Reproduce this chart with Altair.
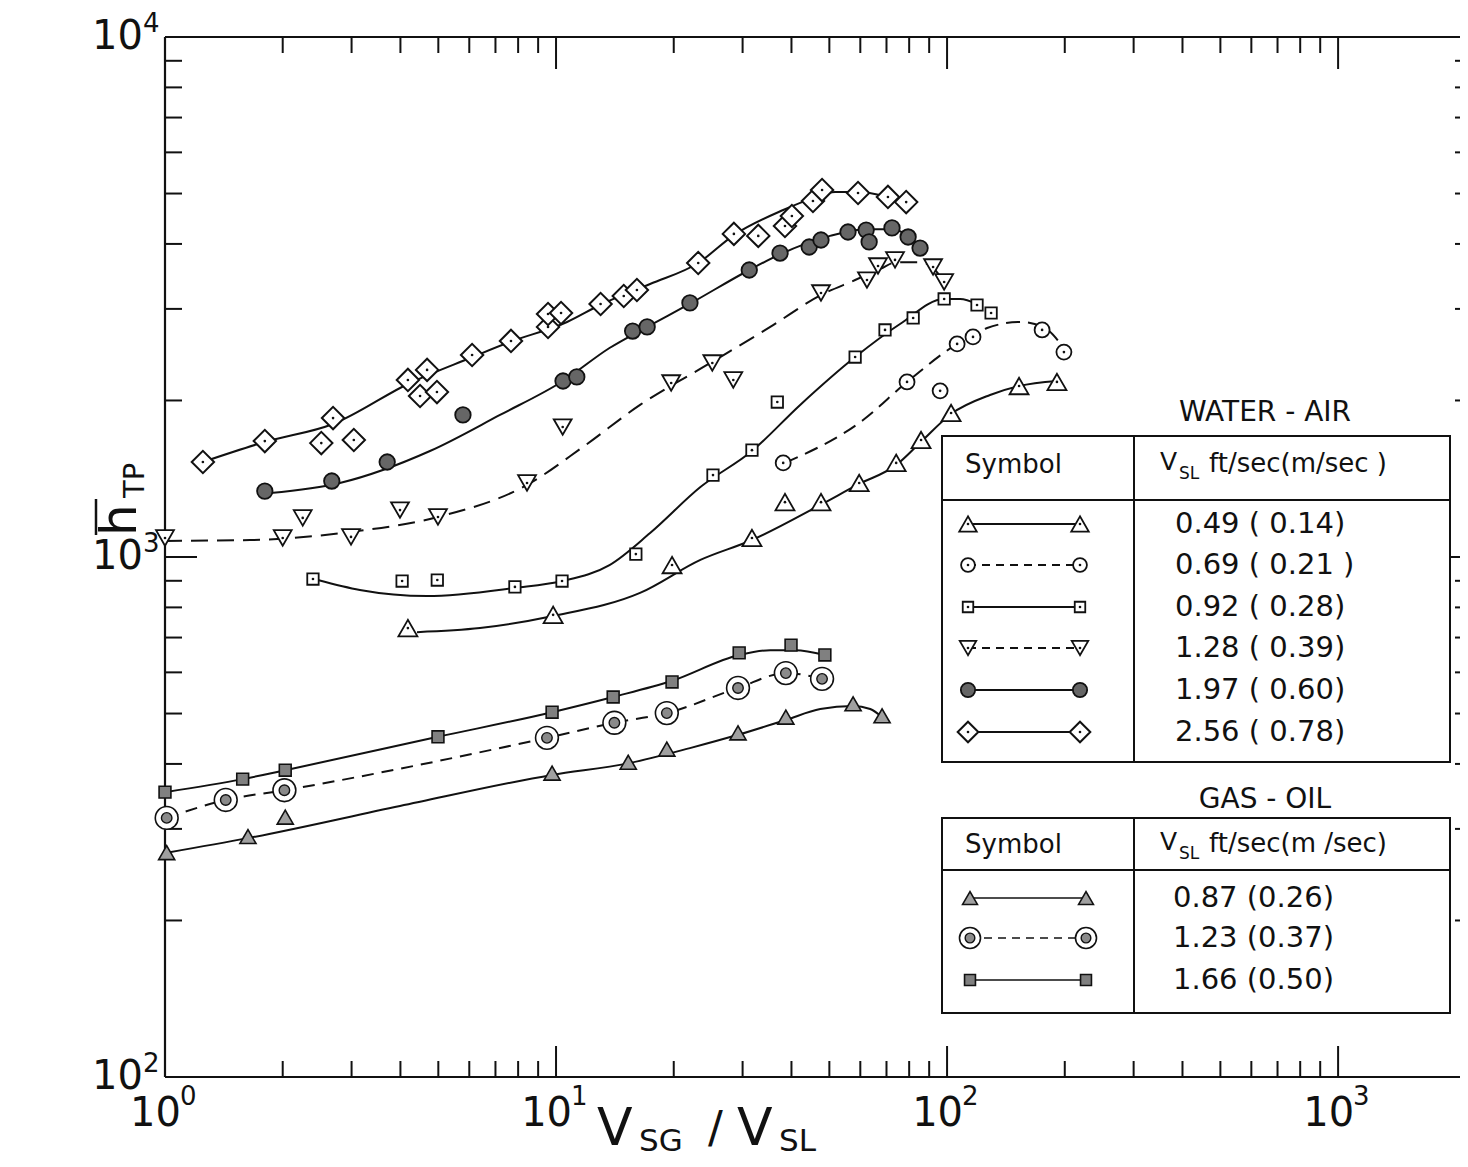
import altair as alt
import pandas as pd

# ---------------- data ----------------
# Water - air, V_SL = 0.49 ft/s (0.14 m/s): open triangles, solid curve
WA049_X = [4.18, 9.83, 19.8, 31.7, 38.5, 47.6, 59.6, 74.1, 85.8, 102.4, 152.8, 191.0]
WA049_Y = [730, 774, 965, 1088, 1275, 1275, 1388, 1517, 1679, 1892, 2132, 2171]
WA049_FIT_X = [4.41, 6.39, 9.83, 16.4, 23.4, 31.7, 47.4, 59.6, 74.1, 85.8, 102.4, 128.8, 152.8, 191.0]
WA049_FIT_Y = [717, 730, 770, 853, 987, 1078, 1259, 1382, 1502, 1665, 1884, 2049, 2132, 2180]

# Water - air, V_SL = 0.69 ft/s (0.21 m/s): open circles, dashed curve
WA069_X = [38.1, 79.0, 96.0, 106.1, 116.5, 175.0, 199.0]
WA069_Y = [1517, 2171, 2087, 2569, 2650, 2733, 2478]
WA069_FIT_X = [38.5, 61.0, 79.0, 106.1, 126.6, 153.7, 176.0, 198.0]
WA069_FIT_Y = [1517, 1834, 2171, 2569, 2756, 2831, 2770, 2533]

# Water - air, V_SL = 0.92 ft/s (0.28 m/s): open squares, solid curve
WA092_X = [2.39, 4.04, 4.97, 7.85, 10.36, 16.0, 25.2, 31.7, 36.8, 58.2, 69.4, 81.9, 98.3, 119.3, 129.6]
WA092_Y = [907, 899, 903, 876, 899, 1013, 1437, 1605, 1986, 2424, 2733, 2882, 3135, 3052, 2946]
WA092_FIT_X = [2.46, 3.15, 4.68, 7.85, 10.36, 13.7, 17.4, 23.4, 31.7, 42.1, 58.2, 75.8, 98.3, 108.0, 119.3]
WA092_FIT_Y = [903, 864, 841, 872, 899, 965, 1112, 1363, 1599, 1961, 2424, 2806, 3135, 3135, 3066]

# Water - air, V_SL = 1.28 ft/s (0.39 m/s): inverted triangles, dashed curve
WA128_X = [1.00, 2.00, 2.25, 2.99, 3.99, 4.99, 8.43, 10.4, 19.7, 25.1, 28.4, 47.6, 62.4, 66.6, 73.6, 92.1, 98.3]
WA128_Y = [1088, 1088, 1189, 1093, 1231, 1194, 1388, 1778, 2161, 2361, 2190, 3219, 3409, 3628, 3727, 3612, 3380]
WA128_FIT_X = [1.0, 1.65, 2.97, 4.99, 8.43, 11.72, 16.4, 24.8, 35.3, 47.6, 58.2, 67.4, 74.5, 85.3, 92.1, 98.3]
WA128_FIT_Y = [1074, 1078, 1117, 1194, 1376, 1628, 1961, 2361, 2770, 3190, 3409, 3581, 3690, 3690, 3594, 3380]

# Water - air, V_SL = 1.97 ft/s (0.60 m/s): filled circles, solid curve
WA197_X = [1.80, 2.67, 3.70, 5.78, 10.42, 11.3, 15.7, 17.1, 22.0, 31.2, 37.4, 44.4, 47.6, 55.8, 62.1, 63.2, 72.3, 79.5, 85.3]
WA197_Y = [1339, 1400, 1523, 1876, 2180, 2220, 2720, 2770, 3080, 3564, 3842, 3946, 4070, 4217, 4253, 4035, 4293, 4125, 3928]
WA197_FIT_X = [1.86, 2.80, 4.76, 7.19, 10.42, 13.7, 17.1, 22.0, 31.2, 37.4, 50.2, 62.1, 72.3, 79.5, 85.3]
WA197_FIT_Y = [1327, 1388, 1599, 1876, 2180, 2523, 2770, 3070, 3564, 3820, 4145, 4270, 4270, 4145, 3946]

# Water - air, V_SL = 2.56 ft/s (0.78 m/s): diamonds, solid curve
WA256_X = [1.25, 1.80, 2.51, 2.69, 3.04, 4.18, 4.49, 4.68, 4.96, 6.10, 7.67, 9.54, 9.54, 10.3,
           13.0, 14.9, 16.1, 23.1, 28.5, 32.9, 38.5, 40.1, 45.4, 47.9, 59.2, 70.6, 78.6]
WA256_Y = [1523, 1671, 1656, 1850, 1679, 2190, 2040, 2290, 2076, 2446, 2603, 2770, 2933, 2946,
           3066, 3176, 3262, 3676, 4182, 4145, 4330, 4526, 4837, 5078, 5012, 4925, 4814]
WA256_FIT_X = [1.25, 1.80, 2.69, 4.23, 6.03, 7.62, 10.67, 12.95, 17.4, 23.1, 28.5, 38.1, 45.4, 51.7, 59.2, 70.6, 78.6]
WA256_FIT_Y = [1523, 1664, 1802, 2161, 2414, 2591, 2831, 3052, 3350, 3676, 4160, 4648, 4900, 5034, 5034, 4925, 4814]

# Gas - oil, V_SL = 0.87 ft/s (0.26 m/s): shaded triangles, solid curve
GO087_X = [1.01, 1.63, 2.03, 9.77, 15.3, 19.2, 29.2, 38.7, 57.5, 68.2]
GO087_Y = [270, 290, 316, 384, 403, 427, 459, 492, 522, 495]
GO087_FIT_X = [1.01, 1.63, 3.99, 9.77, 15.3, 22.0, 29.2, 38.7, 47.4, 57.5, 63.6, 68.2]
GO087_FIT_Y = [270, 288, 332, 381, 401, 429, 455, 486, 510, 517, 510, 492]

# Gas - oil, V_SL = 1.23 ft/s (0.37 m/s): double circles, dashed curve
GO123_X = [1.01, 1.43, 2.02, 9.48, 14.1, 19.2, 29.2, 38.7, 47.9]
GO123_Y = [315, 341, 356, 449, 480, 501, 560, 598, 583]
GO123_FIT_X = [1.01, 1.43, 2.02, 9.48, 14.1, 19.2, 29.2, 38.7, 47.9]
GO123_FIT_Y = [315, 341, 356, 449, 480, 501, 560, 598, 583]

# Gas - oil, V_SL = 1.66 ft/s (0.50 m/s): shaded squares, solid curve
GO166_X = [1.0, 1.58, 2.03, 4.99, 9.77, 14.0, 19.8, 29.4, 39.9, 48.7]
GO166_Y = [353, 374, 389, 451, 503, 538, 575, 654, 677, 648]
GO166_FIT_X = [1.0, 1.58, 2.03, 4.99, 9.77, 14.0, 19.8, 29.4, 35.3, 40.9, 48.7]
GO166_FIT_Y = [353, 374, 389, 451, 503, 538, 578, 648, 662, 662, 648]

# axis ticks and labels
X_MAJOR = [1, 10, 100, 1000]
X_MAJOR_EXP = ["0", "1", "2", "3"]
X_MINOR = [2, 3, 4, 5, 6, 7, 8, 9, 20, 30, 40, 50, 60, 70, 80, 90,
           200, 300, 400, 500, 600, 700, 800, 900]
Y_MAJOR = [100, 1000, 10000]
Y_MAJOR_EXP = ["2", "3", "4"]
Y_MINOR = [200, 300, 400, 500, 600, 700, 800, 900, 2000, 3000, 4000, 5000, 6000, 7000, 8000, 9000]

WA_TITLE = "WATER - AIR"
GO_TITLE = "GAS - OIL"
HEAD_SYMBOL = "Symbol"
WA_HEAD_UNITS = "ft/sec(m/sec )"
GO_HEAD_UNITS = "ft/sec(m /sec)"
WA_LABELS = ["0.49 ( 0.14)", "0.69 ( 0.21 )", "0.92 ( 0.28)", "1.28 ( 0.39)", "1.97 ( 0.60)", "2.56 ( 0.78)"]
GO_LABELS = ["0.87 (0.26)", "1.23 (0.37)", "1.66 (0.50)"]

# ---------------- styling / layout ----------------
W, H = 1295, 1040
FONT = "DejaVu Sans"
INK = "#111111"
XS = alt.Scale(type="log", domain=[1, 2050], nice=False)
YS = alt.Scale(type="log", domain=[100, 10000], nice=False)
DOT = dict(shape="circle", size=7, fill=INK, strokeWidth=0)

M_TRI = [dict(shape="triangle-up", size=360, fill="white", strokeWidth=1.8), DOT]
M_CIR = [dict(shape="circle", size=225, fill="white", strokeWidth=1.8), DOT]
M_SQ = [dict(shape="square", size=130, fill="white", strokeWidth=1.8), DOT]
M_TRD = [dict(shape="triangle-down", size=320, fill="white", strokeWidth=1.8), DOT]
M_FCI = [dict(shape="circle", size=240, fill="#666666", strokeWidth=1.8)]
M_DIA = [dict(shape="diamond", size=500, fill="white", strokeWidth=2), DOT]
M_GTR = [dict(shape="triangle-up", size=260, fill="#a0a0a0", strokeWidth=1.6)]
M_GCI = [dict(shape="circle", size=520, fill="white", strokeWidth=1.6),
         dict(shape="circle", size=110, fill="#8a8a8a", strokeWidth=1.4)]
M_GSQ = [dict(shape="square", size=140, fill="#808080", strokeWidth=1.6)]

SERIES = [
    (WA049_X, WA049_Y, WA049_FIT_X, WA049_FIT_Y, M_TRI, None),
    (WA069_X, WA069_Y, WA069_FIT_X, WA069_FIT_Y, M_CIR, [14, 8]),
    (WA092_X, WA092_Y, WA092_FIT_X, WA092_FIT_Y, M_SQ, None),
    (WA128_X, WA128_Y, WA128_FIT_X, WA128_FIT_Y, M_TRD, [17, 9]),
    (WA197_X, WA197_Y, WA197_FIT_X, WA197_FIT_Y, M_FCI, None),
    (WA256_X, WA256_Y, WA256_FIT_X, WA256_FIT_Y, M_DIA, None),
    (GO087_X, GO087_Y, GO087_FIT_X, GO087_FIT_Y, M_GTR, None),
    (GO123_X, GO123_Y, GO123_FIT_X, GO123_FIT_Y, M_GCI, [12, 8]),
    (GO166_X, GO166_Y, GO166_FIT_X, GO166_FIT_Y, M_GSQ, None),
]

layers = []
ONE = alt.Data(values=[{}])


def xenc(field="x"):
    return alt.X(f"{field}:Q", scale=XS, axis=None)


def yenc(field="y"):
    return alt.Y(f"{field}:Q", scale=YS, axis=None)


# frame lines (top, bottom, left)
layers.append(alt.Chart(ONE).mark_rule(color=INK, strokeWidth=2.2).encode(
    x=alt.value(0), x2=alt.value(W), y=alt.value(0)))
layers.append(alt.Chart(ONE).mark_rule(color=INK, strokeWidth=2.2).encode(
    x=alt.value(0), x2=alt.value(W), y=alt.value(H)))
layers.append(alt.Chart(ONE).mark_rule(color=INK, strokeWidth=2.2).encode(
    x=alt.value(0), y=alt.value(0), y2=alt.value(H)))

# ticks, all pointing inward
xmin_df = pd.DataFrame({"x": X_MINOR})
xmaj_df = pd.DataFrame({"x": X_MAJOR, "exp": X_MAJOR_EXP, "base": ["10"] * len(X_MAJOR)})
ymin_df = pd.DataFrame({"y": Y_MINOR})
ymaj_df = pd.DataFrame({"y": Y_MAJOR, "exp": Y_MAJOR_EXP, "base": ["10"] * len(Y_MAJOR)})
tick = dict(color=INK, strokeWidth=2)
layers += [
    alt.Chart(xmin_df).mark_rule(**tick).encode(x=xenc(), y=alt.value(H), y2=alt.value(H - 16)),
    alt.Chart(xmaj_df).mark_rule(**tick).encode(x=xenc(), y=alt.value(H), y2=alt.value(H - 31)),
    alt.Chart(xmin_df).mark_rule(**tick).encode(x=xenc(), y=alt.value(0), y2=alt.value(16)),
    alt.Chart(xmaj_df).mark_rule(**tick).encode(x=xenc(), y=alt.value(0), y2=alt.value(32)),
    alt.Chart(ymin_df).mark_rule(**tick).encode(y=yenc(), x=alt.value(0), x2=alt.value(17)),
    alt.Chart(ymaj_df).mark_rule(**tick).encode(y=yenc(), x=alt.value(0), x2=alt.value(32)),
    alt.Chart(ymin_df).mark_rule(**tick).encode(y=yenc(), x=alt.value(W), x2=alt.value(W - 5)),
    alt.Chart(ymaj_df).mark_rule(**tick).encode(y=yenc(), x=alt.value(W), x2=alt.value(W - 30)),
]

# tick labels  10^n
lab = dict(font=FONT, color=INK)
layers += [
    alt.Chart(xmaj_df).mark_text(align="right", baseline="middle", fontSize=40, dx=16, **lab).encode(
        x=xenc(), y=alt.value(H + 37), text="base:N"),
    alt.Chart(xmaj_df).mark_text(align="left", baseline="middle", fontSize=26, dx=15, dy=-17, **lab).encode(
        x=xenc(), y=alt.value(H + 37), text="exp:N"),
    alt.Chart(ymaj_df).mark_text(align="right", baseline="middle", fontSize=40, dx=-22, **lab).encode(
        y=yenc(), x=alt.value(0), text="base:N"),
    alt.Chart(ymaj_df).mark_text(align="left", baseline="middle", fontSize=26, dx=-22, dy=-13, **lab).encode(
        y=yenc(), x=alt.value(0), text="exp:N"),
]


# axis titles
def txt(s, x, y, size, align="left", baseline="alphabetic", angle=0):
    kw = dict(align=align, baseline=baseline, fontSize=size, font=FONT, color=INK)
    if angle:
        kw["angle"] = angle
    return alt.Chart(ONE).mark_text(**kw).encode(x=alt.value(x), y=alt.value(y), text=alt.value(s))


layers += [
    txt("V", 432, 1108, 52),
    txt("SG", 474, 1114, 31),
    txt("/", 543, 1106, 44),
    txt("V", 572, 1108, 52),
    txt("SL", 614, 1114, 31),
    txt("h", -29, 499, 50, angle=270),
    txt("TP", -21, 461, 29, angle=270),
]
layers.append(alt.Chart(ONE).mark_rule(color=INK, strokeWidth=2.5).encode(
    x=alt.value(-69), y=alt.value(462), y2=alt.value(498)))

# data series: fitted curves, then the measured points
for px, py, fx, fy, markers, dash in SERIES:
    lkw = dict(color=INK, strokeWidth=2, interpolate="monotone")
    if dash:
        lkw["strokeDash"] = dash
    layers.append(alt.Chart(pd.DataFrame({"x": fx, "y": fy})).mark_line(**lkw).encode(x=xenc(), y=yenc()))
    pdf = pd.DataFrame({"x": px, "y": py})
    for m in markers:
        layers.append(alt.Chart(pdf).mark_point(filled=True, opacity=1, stroke=INK, **m).encode(
            x=xenc(), y=yenc()))


# ---------------- legend tables ----------------
def box(x0, y0, x1, y1):
    return alt.Chart(ONE).mark_rect(fill="white", stroke=INK, strokeWidth=2).encode(
        x=alt.value(x0), x2=alt.value(x1), y=alt.value(y0), y2=alt.value(y1))


def hline(x0, x1, y, dash=None, width=2):
    kw = dict(color=INK, strokeWidth=width)
    if dash:
        kw["strokeDash"] = dash
    return alt.Chart(ONE).mark_rule(**kw).encode(x=alt.value(x0), x2=alt.value(x1), y=alt.value(y))


def vline(x, y0, y1):
    return alt.Chart(ONE).mark_rule(color=INK, strokeWidth=2).encode(
        x=alt.value(x), y=alt.value(y0), y2=alt.value(y1))


def marker(x, y, m, scale=0.85):
    mm = dict(m)
    if mm["size"] > 10:
        mm["size"] = mm["size"] * scale
    return alt.Chart(ONE).mark_point(filled=True, opacity=1, stroke=INK, **mm).encode(
        x=alt.value(x), y=alt.value(y))


LX0, LX1, LDIV = 777, 1285, 969
# water - air table
layers += [
    txt(WA_TITLE, 1100, 376, 28, align="center", baseline="middle"),
    box(LX0, 399, LX1, 725),
    hline(LX0, LX1, 463),
    vline(LDIV, 399, 725),
    txt(HEAD_SYMBOL, 800, 428, 26, baseline="middle"),
    txt("V", 995, 425, 25, baseline="middle"),
    txt("SL", 1014, 437, 17, baseline="middle"),
    txt(WA_HEAD_UNITS, 1044, 427, 26, baseline="middle"),
]
WA_ROWS_Y = [487, 528, 570, 611, 653, 695]
for (px, py, fx, fy, markers, dash), lbl, ry in zip(SERIES[:6], WA_LABELS, WA_ROWS_Y):
    layers.append(hline(803, 915, ry, dash=[8, 6] if dash else None))
    for xx in (803, 915):
        for m in markers:
            layers.append(marker(xx, ry, m))
    layers.append(txt(lbl, 1010, ry, 29, baseline="middle"))

# gas - oil table
layers += [
    txt(GO_TITLE, 1100, 763, 28, align="center", baseline="middle"),
    box(LX0, 781, LX1, 976),
    hline(LX0, LX1, 833),
    vline(LDIV, 781, 976),
    txt(HEAD_SYMBOL, 800, 808, 26, baseline="middle"),
    txt("V", 995, 805, 25, baseline="middle"),
    txt("SL", 1014, 817, 17, baseline="middle"),
    txt(GO_HEAD_UNITS, 1044, 807, 26, baseline="middle"),
]
GO_ROWS_Y = [861, 901, 943]
for (px, py, fx, fy, markers, dash), lbl, ry in zip(SERIES[6:], GO_LABELS, GO_ROWS_Y):
    layers.append(hline(805, 921, ry, dash=[8, 6] if dash else None, width=1.6))
    for xx in (805, 921):
        for m in markers:
            layers.append(marker(xx, ry, m))
    layers.append(txt(lbl, 1008, ry, 29, baseline="middle"))

chart = alt.layer(*layers).properties(
    width=W, height=H,
    padding={"left": 157, "top": 29, "right": 0, "bottom": 82},
    autosize=alt.AutoSizeParams(type="none"),
    background="white",
).configure_view(stroke=None)

chart.save("out.html", embed_options={"renderer": "svg", "actions": False})
